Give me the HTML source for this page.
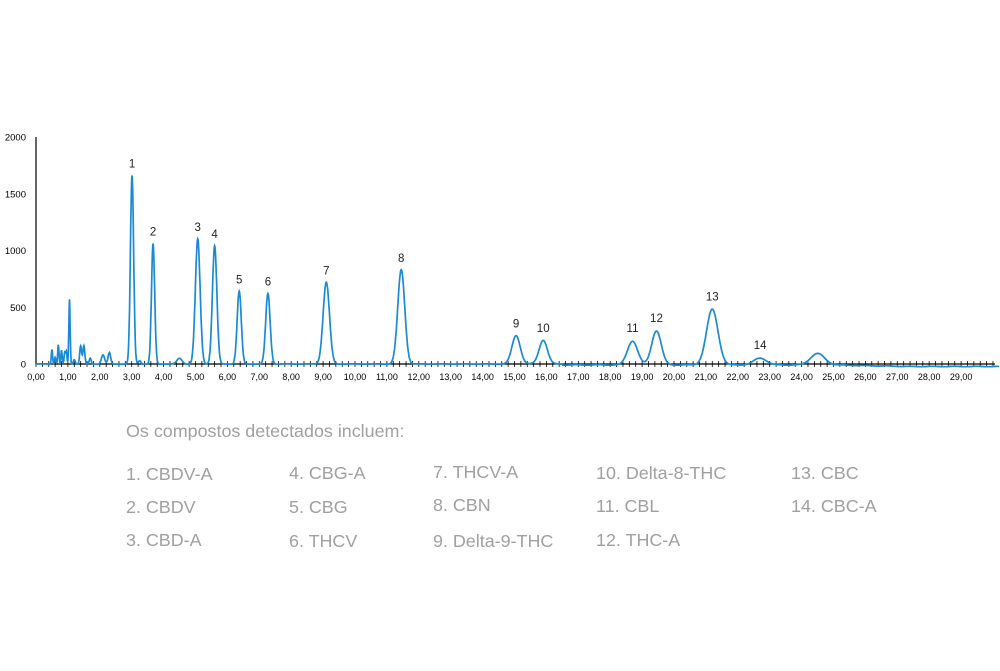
<!DOCTYPE html>
<html><head><meta charset="utf-8"><style>
body{margin:0;width:1000px;height:671px;background:#fff;overflow:hidden;font-family:"Liberation Sans",sans-serif}
.t{position:absolute;color:#a0a0a0;font-size:17.9px;white-space:nowrap;line-height:20px}
</style></head><body>
<svg id="s" width="1000" height="671" style="position:absolute;left:0;top:0" font-family="Liberation Sans, sans-serif"></svg>
<div class="t" style="left:126px;top:421px">Os compostos detectados incluem:</div>
<div class="t" style="left:126px;top:464px">1. CBDV-A</div>
<div class="t" style="left:126px;top:497px">2. CBDV</div>
<div class="t" style="left:126px;top:530px">3. CBD-A</div>
<div class="t" style="left:289px;top:463px">4. CBG-A</div>
<div class="t" style="left:289px;top:497px">5. CBG</div>
<div class="t" style="left:289px;top:531px">6. THCV</div>
<div class="t" style="left:433px;top:462px">7. THCV-A</div>
<div class="t" style="left:433px;top:495px">8. CBN</div>
<div class="t" style="left:433px;top:531px">9. Delta-9-THC</div>
<div class="t" style="left:596px;top:463px">10. Delta-8-THC</div>
<div class="t" style="left:596px;top:496px">11. CBL</div>
<div class="t" style="left:596px;top:530px">12. THC-A</div>
<div class="t" style="left:791px;top:463px">13. CBC</div>
<div class="t" style="left:791px;top:496px">14. CBC-A</div>
<script>
var s=document.getElementById('s'),h='';
var X=function(t){return 36+t*31.9},Y=function(v){return 364-v*0.1135};
h+='<line x1="36" y1="137" x2="36" y2="364" stroke="#000" stroke-width="1.2"/>';
[0,500,1000,1500,2000].forEach(function(v){h+='<text x="26" y="'+(Y(v)+3.5)+'" font-size="9.5" text-anchor="end">'+v+'</text>';});
h+='<line x1="36" y1="364" x2="995" y2="364" stroke="#000" stroke-width="1.2"/>';
for(var t=0;t<=30;t+=0.2){h+='<line x1="'+X(t)+'" y1="361" x2="'+X(t)+'" y2="367" stroke="#000" stroke-width="0.8"/>';}
for(var i=0;i<=29;i++){h+='<text x="'+X(i)+'" y="380" font-size="9" text-anchor="middle">'+(i<10?'0':'')+i+',00</text>';}
h=h.replace(/>0(\d),00</g,'>$1,00<');
var P=[[3.01,1660,.05],[3.67,1060,.05],[5.07,1100,.075],[5.6,1040,.07],[6.37,640,.065],[7.27,620,.07],[9.1,720,.1],[11.45,830,.11],[15.05,250,.13],[15.9,210,.13],[18.7,210,.16],[19.45,300,.15],[21.2,490,.18],[22.7,60,.2],[24.5,100,.22],[4.5,50,.08],[3.25,30,.04],
[1.05,570,.02],[0.5,130,.02],[0.7,170,.02],[0.8,120,.02],[0.9,100,.02],[1.4,160,.03],[1.5,160,.03],[1.7,50,.03],[2.1,80,.05],[2.3,100,.04],[0.6,60,.02],[0.95,110,.02],[1.2,40,.03]];
var d='';
for(var t=0;t<=30.2;t+=0.01){var v=0;P.forEach(function(p){v+=p[1]*Math.exp(-Math.pow(t-p[0],2)/(2*p[2]*p[2]))});
if(t>25)v-=Math.min(22,8+(t-25)*6);else if(t>16.5)v-=8;
v+=Math.sin(t*9)*2;
d+=(d?'L':'M')+X(t).toFixed(1)+','+Y(v).toFixed(1);}
h+='<path d="'+d+'" fill="none" stroke="#1a8ad4" stroke-width="1.7"/>';
var L=[[1,3.01,1660],[2,3.67,1060],[3,5.07,1100],[4,5.6,1040],[5,6.37,640],[6,7.27,620],[7,9.1,720],[8,11.45,830],[9,15.05,250],[10,15.9,210],[11,18.7,210],[12,19.45,300],[13,21.2,490],[14,22.7,60]];
L.forEach(function(l){h+='<text x="'+X(l[1])+'" y="'+(Y(l[2])-8)+'" font-size="11.5" text-anchor="middle" fill="#222">'+l[0]+'</text>';});
s.innerHTML=h;
</script>
</body></html>
